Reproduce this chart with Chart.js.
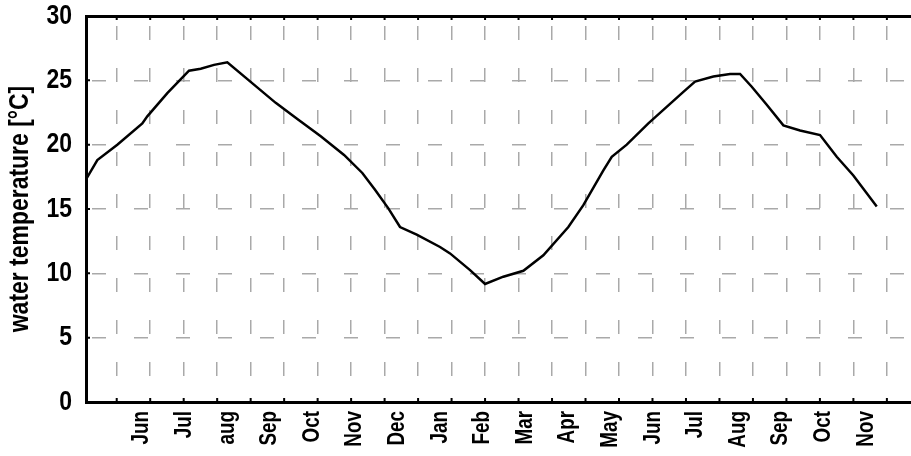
<!DOCTYPE html>
<html>
<head>
<meta charset="utf-8">
<script src="https://cdn.jsdelivr.net/npm/chart.js@4.4.0/dist/chart.umd.min.js"></script>
<style>
  html, body { margin: 0; padding: 0; background: #fff; }
</style>
</head>
<body>
<canvas id="chart" width="911" height="456"></canvas>
<script>
// month labels, one unit apart (first "Jun" = 0)
const monthLabels = ['Jun', 'Jul', 'aug', 'Sep', 'Oct', 'Nov', 'Dec', 'Jan', 'Feb',
    'Mar', 'Apr', 'May', 'Jun', 'Jul', 'Aug', 'Sep', 'Oct', 'Nov'];

// time of each reading, in months from the first "Jun" label
const monthPos = [-1.315, -1.049, -0.580, 0.007, 0.124, 0.594, 1.103, 1.378, 1.690, 2.002,
    2.669, 3.138, 3.646, 4.195, 4.742, 5.171, 5.469, 5.782, 6.056, 6.448,
    6.995, 7.230, 7.700, 8.052, 8.481, 8.951, 9.420, 10.007, 10.359, 10.829,
    11.026, 11.378, 11.885, 12.707, 12.981, 13.411, 13.803, 14.038, 14.312, 14.664,
    15.054, 15.446, 15.915, 16.307, 16.697, 17.246];

// water temperature [°C]
const waterTemp = [17.3, 18.8, 20.0, 21.65, 22.2, 24.0, 25.75, 25.9, 26.2, 26.4,
    24.55, 23.25, 22.0, 20.65, 19.2, 17.8, 16.5, 15.05, 13.6, 13.0,
    12.05, 11.55, 10.25, 9.17, 9.74, 10.2, 11.4, 13.6, 15.3, 18.0,
    19.06, 20.0, 21.65, 24.1, 24.9, 25.3, 25.5, 25.5, 24.5, 23.1,
    21.5, 21.1, 20.75, 19.06, 17.6, 15.2];

const yTicks = [0, 5, 10, 15, 20, 25, 30];

// x range and spacing of the dashed vertical grid (months)
const xMin = -1.315, xMax = 18.05;
const gridStart = -0.594, gridStep = 0.786;

const FONT = "'Liberation Sans', Arial, sans-serif";
const CONDENSE = 0.82;   // largeur des glyphes (police étroite)
const gridColor = '#a9a9a9';
const gridDash = [14, 28];

const gridPos = [];
for (let v = gridStart; v < xMax; v += gridStep) gridPos.push(v);

// texte étroit : on resserre chaque texte autour de son point d'ancrage
const narrowText = {
    id: 'narrowText',
    beforeDraw(chart) {
        const c = chart.ctx;
        if (c._origFillText) return;
        c._origFillText = c.fillText;
        c.fillText = function (text, x, y, maxWidth) {
            this.save();
            this.translate(x, y);
            this.scale(CONDENSE, 1);
            this._origFillText(text, 0, 0, maxWidth);
            this.restore();
        };
    }
};

// petites graduations vers l'intérieur
const innerTicks = {
    id: 'innerTicks',
    afterDraw(chart) {
        const { ctx, chartArea, scales } = chart;
        ctx.save();
        ctx.strokeStyle = '#000';
        ctx.lineWidth = 2;
        ctx.beginPath();
        gridPos.forEach(v => {
            const px = scales.x.getPixelForValue(v);
            ctx.moveTo(px, chartArea.bottom);
            ctx.lineTo(px, chartArea.bottom - 4);
            ctx.moveTo(px, chartArea.top);
            ctx.lineTo(px, chartArea.top + 4);
        });
        yTicks.forEach(v => {
            const py = scales.y.getPixelForValue(v);
            ctx.moveTo(chartArea.left, py);
            ctx.lineTo(chartArea.left + 4, py);
        });
        ctx.stroke();
        ctx.restore();
    }
};

const ctx = document.getElementById('chart').getContext('2d');
const chart = new Chart(ctx, {
    type: 'line',
    data: {
        datasets: [{
            data: monthPos.map((m, i) => ({ x: m, y: waterTemp[i] })),
            borderColor: '#000',
            borderWidth: 2.5,
            pointRadius: 0,
            tension: 0,
            fill: false,
            xAxisID: 'x',
            yAxisID: 'y'
        }]
    },
    options: {
        responsive: false,
        animation: false,
        devicePixelRatio: 1,
        layout: { padding: 0 },
        plugins: { legend: { display: false }, tooltip: { enabled: false } },
        scales: {
            x: {
                type: 'linear',
                position: 'bottom',
                min: xMin,
                max: xMax,
                afterBuildTicks: axis => { axis.ticks = monthLabels.map((l, i) => ({ value: i })); },
                afterFit: axis => { axis.height = 54; axis.paddingLeft = 0; axis.paddingRight = 0; },
                ticks: {
                    autoSkip: false,
                    minRotation: 90,
                    maxRotation: 90,
                    padding: 9,
                    color: '#000',
                    font: { family: FONT, size: 23, weight: 'bold' },
                    callback: v => monthLabels[v]
                },
                grid: { display: false, drawTicks: false },
                border: { color: '#000', width: 3 }
            },
            xg: {
                type: 'linear',
                position: 'top',
                min: xMin,
                max: xMax,
                afterBuildTicks: axis => { axis.ticks = gridPos.map(v => ({ value: v })); },
                afterFit: axis => { axis.height = 16; axis.paddingLeft = 0; axis.paddingRight = 0; },
                ticks: { display: false },
                grid: { color: gridColor, lineWidth: 1.5, drawTicks: false },
                border: { color: '#000', width: 3, dash: gridDash, dashOffset: -8 }
            },
            y: {
                type: 'linear',
                min: 0,
                max: 30,
                afterBuildTicks: axis => { axis.ticks = yTicks.map(v => ({ value: v })); },
                afterFit: axis => { axis.width = 86; axis.paddingTop = 0; axis.paddingBottom = 0; },
                ticks: {
                    padding: 14,
                    color: '#000',
                    font: { family: FONT, size: 28, weight: 'bold' }
                },
                grid: {
                    color: c => (c.tick && (c.tick.value === 0 || c.tick.value === 30)) ? 'rgba(0,0,0,0)' : gridColor,
                    lineWidth: 1.5,
                    drawTicks: false
                },
                border: { color: '#000', width: 3, dash: gridDash, dashOffset: -4 },
                title: {
                    display: true,
                    text: 'water temperature [°C]',
                    color: '#000',
                    font: { family: FONT, size: 28, weight: 'bold' },
                    padding: { top: 3, bottom: 0 }
                }
            }
        }
    },
    plugins: [narrowText, innerTicks]
});
</script>
</body>
</html>
